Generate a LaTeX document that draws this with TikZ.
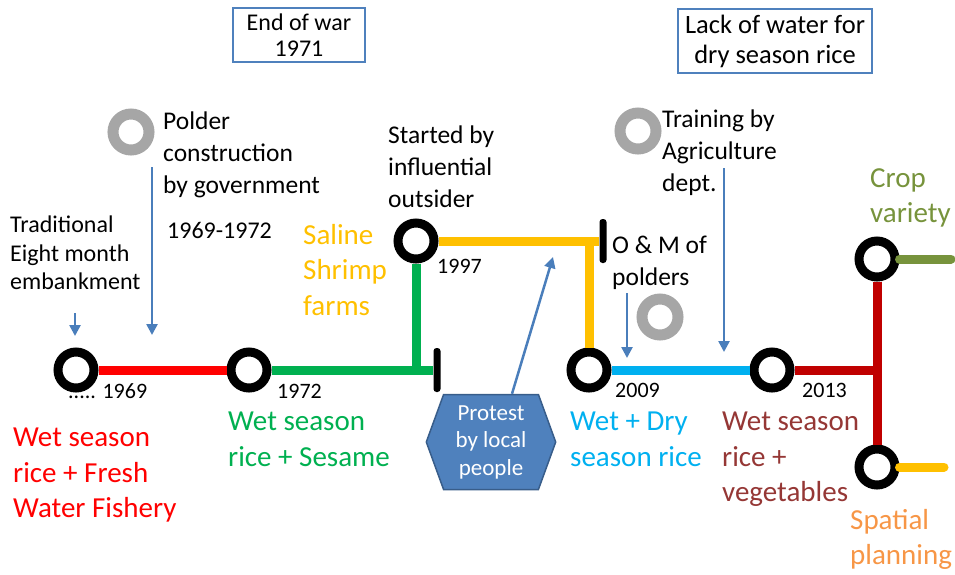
\documentclass[tikz,border=0pt]{standalone}
\usepackage{fontspec}
\setmainfont{Carlito}
\usetikzlibrary{arrows.meta,shapes.symbols,calc}
\definecolor{lineRed}{RGB}{255,0,0}
\definecolor{lineGreen}{RGB}{0,176,80}
\definecolor{lineYellow}{RGB}{255,192,0}
\definecolor{lineCyan}{RGB}{0,176,240}
\definecolor{lineDark}{RGB}{192,0,0}
\definecolor{lineOlive}{RGB}{119,147,60}
\definecolor{textBrown}{RGB}{149,55,53}
\definecolor{textOrange}{RGB}{247,150,70}
\definecolor{cueBlue}{RGB}{74,126,187}
\definecolor{boxBlue}{RGB}{79,129,189}
\definecolor{hexBorder}{RGB}{56,93,138}
\definecolor{ringGrey}{RGB}{166,166,166}

\begin{document}
\begin{tikzpicture}[x=1pt,y=-1pt,>={Triangle[width=11pt,length=11pt]}]
    \tikzstyle{ring}=[circle,draw=black,line width=9pt,fill=white,minimum size=36pt,inner sep=0pt]
    \tikzstyle{greyring}=[circle,draw=ringGrey,line width=11pt,fill=white,minimum size=36pt,inner sep=0pt]
    \tikzstyle{stopbar}=[fill=black,rounded corners=3pt,minimum width=7pt,minimum height=44pt,inner sep=0pt]
    \tikzstyle{track}=[line width=9pt]
    \tikzstyle{note}=[anchor=north west,align=left,inner sep=0pt,font=\fontsize{25.5}{32}\selectfont]
    \tikzstyle{phase}=[anchor=north west,align=left,inner sep=0pt,font=\fontsize{29}{35.5}\selectfont]
    \tikzstyle{year}=[anchor=base west,inner sep=0pt,font=\fontsize{22}{26}\selectfont]
    \tikzstyle{event}=[draw=boxBlue,line width=1.5pt,align=center,inner sep=0pt]
    \tikzstyle{cue}=[->,draw=cueBlue,fill=cueBlue,line width=2.5pt]
    \useasboundingbox (0,0) rectangle (955,574);
    % stations on the line
    \node[ring] (r1969) at (76,370) {};
    \node[ring] (r1972) at (249,370) {};
    \node[ring] (r1997) at (416,241) {};
    \node[stopbar] (stopa) at (437,370) {};
    \node[stopbar] (stopb) at (603,241) {};
    \node[ring] (r2009) at (589,370) {};
    \node[ring] (r2013) at (772,370) {};
    \node[ring] (rcrop) at (877,259) {};
    \node[ring] (rspatial) at (877,467) {};
    \draw[track,draw=lineRed] (r1969) -- (r1972);
    \draw[track,draw=lineGreen] (r1972) -- (stopa);
    \draw[track,draw=lineGreen] (r1997) -- (r1997 |- r1972.center);
    \draw[track,draw=lineYellow] (r1997) -- (stopb);
    \draw[track,draw=lineYellow] (r2009) -- (r2009 |- r1997.center);
    \draw[track,draw=lineCyan] (r2009) -- (r2013);
    \draw[track,draw=lineDark] (r2013) -- (r2013 -| rcrop.center);
    \draw[track,draw=lineDark] (rcrop) -- (rspatial);
    \coordinate (cropend) at (951,259);
    \coordinate (spatialend) at (944,467);
    \draw[track,draw=lineOlive,line cap=round] (rcrop) -- (cropend);
    \draw[track,draw=lineYellow,line cap=round] (rspatial) -- (spatialend);
    % grey markers
    \node[greyring] (gpolder) at (131,132) {};
    \node[greyring] (gtraining) at (638,131) {};
    \node[greyring] (gom) at (660,317) {};
    % events
    \node[event,minimum width=132pt,minimum height=54pt,font=\fontsize{24}{26}\selectfont] (endwar) at (299,35) {End of war\\1971};
    \node[event,minimum width=194pt,minimum height=64pt,font=\fontsize{26.5}{30}\selectfont] (lackwater) at (775,41) {Lack of water for\\dry season rice};
    \node[shape=signal,signal to=east and west,signal pointer angle=140,fill=boxBlue,draw=hexBorder,line width=1.5pt,
      text=white,align=center,inner xsep=12pt,inner ysep=6pt,minimum height=95pt,font=\fontsize{23}{27.5}\selectfont]
      (protest) at (491,442) {Protest\\by local\\people};
    \node[note,font=\fontsize{24}{28.5}\selectfont] (trad) at (10,216) {Traditional\\Eight month\\embankment};
    \node[note] (polder) at (163,112) {Polder\\construction\\by government};
    \node[note,font=\fontsize{24}{28}\selectfont] (polderyears) at (167,222) {1969-1972};
    \node[note] (outsider) at (388,126) {Started by\\influential\\outsider};
    \node[note] (om) at (612,236) {O \& M of\\polders};
    \node[note] (training) at (662,110) {Training by\\Agriculture\\dept.};
    % phases
    \node[phase,text=lineRed] (pfish) at (13,428) {Wet season\\rice + Fresh\\Water Fishery};
    \node[phase,text=lineGreen] (psesame) at (228,412) {Wet season\\rice + Sesame};
    \node[phase,text=lineYellow] (pshrimp) at (303,224) {Saline\\Shrimp\\farms};
    \node[phase,text=lineCyan] (pdry) at (570,412) {Wet + Dry\\season rice};
    \node[phase,text=textBrown] (pveg) at (722,412) {Wet season\\rice +\\vegetables};
    \node[phase,text=lineOlive] (pcrop) at (870,168) {Crop\\variety};
    \node[phase,text=textOrange] (pspatial) at (850,509) {Spatial\\planning};
    % years
    \node[year] (y1969) at (68,398) {..... 1969};
    \node[year] (y1972) at (277,398) {1972};
    \node[year] (y1997) at (437,273) {1997};
    \node[year] (y2009) at (615,397) {2009};
    \node[year] (y2013) at (802,397) {2013};
    % arrows
    \coordinate (tradfoot) at (75,313);
    \coordinate (tradtip) at (75,336);
    \coordinate (poldertop) at (152,167);
    \coordinate (poldertip) at (152,335);
    \coordinate (protesttip) at (553,257);
    \coordinate (omtop) at (627,293);
    \coordinate (omtip) at (627,358);
    \coordinate (trainingtop) at (724,168);
    \coordinate (trainingtip) at (724,352);
    \draw[cue] (tradfoot) -- (tradtip);
    \draw[cue] (poldertop) -- (poldertip);
    \draw[cue] ($(protest.north)+(21,0)$) -- (protesttip);
    \draw[cue] (omtop) -- (omtip);
    \draw[cue] (trainingtop) -- (trainingtip);
  \end{tikzpicture}
\end{document}
